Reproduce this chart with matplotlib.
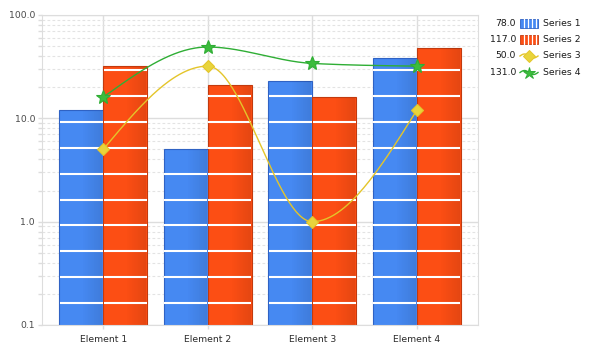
import numpy as np
import matplotlib
matplotlib.use("Agg")
import matplotlib.pyplot as plt
from matplotlib.patches import Rectangle
from matplotlib.ticker import FixedLocator, LogLocator, NullFormatter

categories = ["Element 1", "Element 2", "Element 3", "Element 4"]
series_names = ["Series 1", "Series 2", "Series 3", "Series 4"]
series1 = [12, 5, 23, 38]
series2 = [32, 21, 16, 48]
series3 = [5, 32, 1, 12]
series4 = [16, 49, 34, 32]
y_ticks = [0.1, 1.0, 10.0, 100.0]
y_tick_labels = ["0.1", "1.0", "10.0", "100.0"]

BLUE = "#4689F2"
BLUE_EDGE = "#2F62C4"
ORANGE = "#FC4E14"
ORANGE_EDGE = "#C23A0E"
YELLOW = "#E4C52A"
YELLOW_FILL = "#E8D43C"
GREEN = "#2FAE35"
GREEN_FILL = "#3CBC3C"
GRID = "#DDDDDD"

W, H, DPI = 591, 351, 100
fig = plt.figure(figsize=(W / DPI, H / DPI), dpi=DPI)
ax = fig.add_axes([42 / W, 1 - 325 / H, (478 - 42) / W, (325 - 15) / H])
ax.set_yscale("log")
x = np.arange(len(categories))

# grid
ax.set_axisbelow(True)
ax.yaxis.set_major_locator(FixedLocator(y_ticks))
ax.yaxis.set_minor_locator(LogLocator(base=10, subs=np.arange(2, 10)))
ax.yaxis.set_minor_formatter(NullFormatter())
ax.set_yticklabels(y_tick_labels)
ax.grid(True, which="major", axis="y", color=GRID, lw=1, ls="-")
ax.grid(True, which="minor", axis="y", color="#E3E3E3", lw=0.8, ls=(0, (2.5, 2)))
ax.set_xticks(x)
ax.set_xticklabels(categories)
ax.grid(True, which="major", axis="x", color=GRID, lw=1, ls="-")
for s in ax.spines.values():
    s.set_color(GRID)
ax.tick_params(axis="both", which="both", colors=GRID, length=3, width=1, pad=2)
ax.tick_params(axis="y", labelsize=6.7, labelcolor="#4a4a4a")
ax.tick_params(axis="x", labelsize=6.7, labelcolor="#2a2a2a", pad=4)

bw = 0.42
b1 = ax.bar(x - bw / 2, series1, width=bw, color=BLUE, edgecolor=BLUE_EDGE, lw=0.8, zorder=2)
b2 = ax.bar(x + bw / 2, series2, width=bw, color=ORANGE, edgecolor=ORANGE_EDGE, lw=0.8, zorder=2)

# gradient shading (lighter left, darker right)
shade = matplotlib.colors.LinearSegmentedColormap.from_list("g", [(0, 0, 0, 0.10), (0, 0, 0, 0.0)])
for bars in (b1, b2):
    for r in bars:
        x0 = r.get_x()
        w = r.get_width()
        top = r.get_height()
        grad = np.linspace(1.0, 0.0, 50).reshape(1, -1)
        ax.imshow(grad, extent=[x0 + w * 0.5, x0 + w, 0.1, top], aspect="auto",
                  cmap=shade, zorder=2.1, interpolation="bilinear")
ax.set_xlim(-0.585, len(categories) - 1 + 0.585)
ax.set_ylim(0.1, 100)

# white stripe texture
stripe_levels = 10 ** (-1 + 22 / 103.3 + 0.25 * np.arange(12))
for bars in (b1, b2):
    for r in bars:
        lv = stripe_levels[stripe_levels < r.get_height() * 0.97]
        ax.hlines(lv, r.get_x() + 0.004, r.get_x() + r.get_width() - 0.004,
                  colors="white", lw=1.5, zorder=2.5)


def monotone(xs, ys, n=60):
    xs = np.asarray(xs, float)
    ys = np.asarray(ys, float)
    h = np.diff(xs)
    s = np.diff(ys) / h
    m = np.zeros_like(ys)
    for i in range(1, len(ys) - 1):
        p = (s[i - 1] * h[i] + s[i] * h[i - 1]) / (h[i - 1] + h[i])
        m[i] = (np.sign(s[i - 1]) + np.sign(s[i])) * min(abs(s[i - 1]), abs(s[i]), 0.5 * abs(p))
    m[0] = (3 * s[0] - m[1]) / 2
    m[-1] = (3 * s[-1] - m[-2]) / 2
    out_x, out_y = [], []
    for i in range(len(xs) - 1):
        t = np.linspace(0, 1, n)
        h00 = 2 * t**3 - 3 * t**2 + 1
        h10 = t**3 - 2 * t**2 + t
        h01 = -2 * t**3 + 3 * t**2
        h11 = t**3 - t**2
        yy = h00 * ys[i] + h10 * h[i] * m[i] + h01 * ys[i + 1] + h11 * h[i] * m[i + 1]
        out_x.append(xs[i] + t * h[i])
        out_y.append(yy)
    return np.concatenate(out_x), np.concatenate(out_y)


for vals, lc, fc, mk, ms in ((series3, YELLOW, YELLOW_FILL, "D", 6.5),
                             (series4, GREEN, GREEN_FILL, "*", 10)):
    cx, cy = monotone(x, np.log10(vals))
    ax.plot(cx, 10 ** cy, color=lc, lw=1.0, zorder=3)
    ax.plot(x, vals, ls="none", marker=mk, ms=ms, mfc=fc, mec=lc, mew=0.8, zorder=4)

# legend (pixel overlay)
ov = fig.add_axes([0, 0, 1, 1], facecolor="none")
ov.set_xlim(0, W)
ov.set_ylim(H, 0)
ov.axis("off")
totals = [sum(series1), sum(series2), sum(series3), sum(series4)]
rows = [23, 39.5, 56, 72.5]
for i, (name, tot, yy) in enumerate(zip(series_names, totals, rows)):
    ov.text(516, yy, f"{tot:.1f}", ha="right", va="center", fontsize=6.7, color="#1a1a1a")
    ov.text(543, yy, name, ha="left", va="center", fontsize=6.7, color="#1a1a1a")
    if i < 2:
        fc, ec = (BLUE, BLUE_EDGE) if i == 0 else (ORANGE, ORANGE_EDGE)
        ov.add_patch(Rectangle((520, yy - 4.5), 18, 9, facecolor=fc, edgecolor=ec, lw=0.6))
        for xx in (524, 528, 532, 536):
            ov.plot([xx, xx], [yy - 4.2, yy + 4.2], color="white", lw=0.9)
    else:
        lc, fcol, mk, ms = (YELLOW, YELLOW_FILL, "D", 6.5) if i == 2 else (GREEN, GREEN_FILL, "*", 9)
        tx = np.linspace(520, 538, 30)
        ty = yy + 2.0 * np.sin((tx - 520) / 18 * 2 * np.pi + np.pi)
        ov.plot(tx, ty, color=lc, lw=1.0)
        ov.plot([529], [yy], marker=mk, ms=ms, mfc=fcol, mec=lc, mew=0.7)

fig.savefig("out.png", dpi=DPI)
